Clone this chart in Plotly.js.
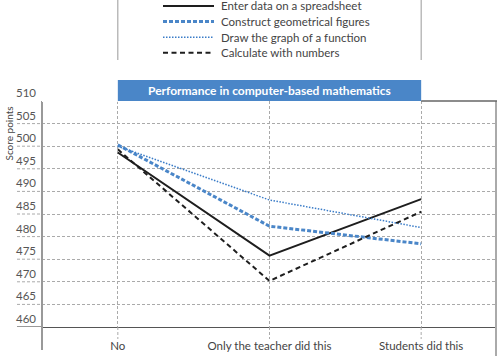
<!DOCTYPE html>
<html><head><meta charset="utf-8">
<script src="https://cdn.plot.ly/plotly-3.0.1.min.js"></script>
<style>html,body{margin:0;padding:0;background:#fff}#chart{width:500px;height:356px}</style>
</head><body><div id="chart"></div>
<script>
// ---- data ----
const categories = ['No', 'Only the teacher did this', 'Students did this'];
const seriesNames = ['Enter data on a spreadsheet', 'Construct geometrical figures', 'Draw the graph of a function', 'Calculate with numbers'];
const enterData = [498.6, 475.8, 488.3];
const constructFigures = [500.3, 482.3, 478.4];
const drawGraph = [500.0, 488.1, 482.0];
const calculateNumbers = [499.3, 470.2, 485.5];
const yTicks = [460, 465, 470, 475, 480, 485, 490, 495, 500, 505, 510];
const chartTitle = 'Performance in computer-based mathematics';
const yTitle = 'Score points';

// ---- styles ----
const FONT = 'Lato, "Open Sans", sans-serif';
const BLUE = '#4a86c8';
const styles = [
  {color: '#1e1e1e', width: 2, dash: 'solid'},
  {color: BLUE, width: 3, dash: '4px,2px'},
  {color: '#3a7cc8', width: 1.5, dash: '1.5px,1.5px'},
  {color: '#1e1e1e', width: 2, dash: '5px,3.5px'}
];
const values = [enterData, constructFigures, drawGraph, calculateNumbers];

const W = 500, H = 356, ML = 42, MR = 3, MT = 101, MB = 29;
const plotW = W - ML - MR, plotH = H - MT - MB;
const pyPaper = p => (H - MB - p) / plotH;
const pxPaper = p => (p - ML) / plotW;

const traces = values.map((v, i) => ({
  type: 'scatter', mode: 'lines', x: categories, y: v, name: seriesNames[i],
  line: {color: styles[i].color, width: styles[i].width, dash: styles[i].dash},
  showlegend: false, hoverinfo: 'x+y+name'
}));

const shapes = [];
const annotations = [];

// legend (manual)
const legRows = [6, 21.6, 37.2, 52.8];
seriesNames.forEach((n, i) => {
  shapes.push({type: 'line', xref: 'paper', yref: 'paper',
    x0: pxPaper(163), x1: pxPaper(214), y0: pyPaper(legRows[i]), y1: pyPaper(legRows[i]),
    line: {color: styles[i].color, width: styles[i].width, dash: styles[i].dash}});
  annotations.push({xref: 'paper', yref: 'paper', x: pxPaper(219), y: pyPaper(legRows[i]),
    xanchor: 'left', yanchor: 'middle', text: n, showarrow: false,
    font: {family: FONT, size: 11.5, color: '#444'}});
});

// gridline extensions to the left of the axis (under tick labels)
yTicks.forEach(t => {
  if (t === yTicks[yTicks.length - 1]) return;
  const base = t === yTicks[0];
  shapes.push({type: 'line', xref: 'paper', yref: 'y', x0: pxPaper(17), x1: 0, y0: t, y1: t,
    line: base ? {color: '#555', width: 1.2} : {color: '#aaa', width: 1, dash: '3px,2px'}});
});
// vertical lines above the chart (frame of legend area)
[0, 2].forEach(c => shapes.push({type: 'line', xref: 'x', yref: 'paper', x0: c, x1: c,
  y0: pyPaper(0), y1: pyPaper(60), line: {color: '#999', width: 1}}));
// gridline extensions below baseline
[0, 1, 2].forEach(c => shapes.push({type: 'line', xref: 'x', yref: 'paper', x0: c, x1: c,
  y0: 0, y1: pyPaper(339), line: {color: '#aaa', width: 1, dash: '3px,2px'}}));
// left axis bar
shapes.push({type: 'line', xref: 'paper', yref: 'paper', x0: 0, x1: 0, y0: 1, y1: pyPaper(350),
  line: {color: '#999', width: 2}});
// right bar
shapes.push({type: 'line', xref: 'paper', yref: 'paper', x0: pxPaper(496), x1: pxPaper(496), y0: 1, y1: pyPaper(357),
  line: {color: '#aaa', width: 2}});
// white cover for top gridline left part, then top border
shapes.push({type: 'line', xref: 'x', yref: 'paper', x0: -0.5, x1: 0, y0: 1, y1: 1,
  line: {color: '#fff', width: 2}});
shapes.push({type: 'line', xref: 'x', yref: 'paper', x0: 2, x1: 2.5, y0: 1, y1: 1,
  line: {color: '#666', width: 1.5}});
// title banner
shapes.push({type: 'rect', xref: 'x', yref: 'paper', x0: 0, x1: 2, y0: 1, y1: pyPaper(80),
  fillcolor: BLUE, line: {width: 0}});
annotations.push({xref: 'x', yref: 'paper', x: 1, y: pyPaper(90.5), xanchor: 'center', yanchor: 'middle',
  text: '<b>' + chartTitle + '</b>', showarrow: false, font: {family: FONT, size: 12, color: '#fff'}});
// y title
annotations.push({xref: 'paper', yref: 'paper', x: pxPaper(8), y: pyPaper(133.5), xanchor: 'center', yanchor: 'middle',
  text: yTitle, textangle: -90, showarrow: false, font: {family: FONT, size: 10, color: '#444'}});

const layout = {
  width: W, height: H,
  margin: {l: ML, r: MR, t: MT, b: MB, pad: 0},
  paper_bgcolor: '#fff', plot_bgcolor: '#fff',
  showlegend: false,
  xaxis: {type: 'category', range: [-0.5, 2.5], showgrid: true, griddash: '3px,2px',
    gridcolor: '#aaa', gridwidth: 1, showline: true, linecolor: '#555', linewidth: 1.2,
    ticks: '', zeroline: false, tickfont: {family: FONT, size: 11.5, color: '#444'},
    ticklabelstandoff: 8, fixedrange: true},
  yaxis: {range: [460, 510], tickvals: yTicks, ticktext: yTicks.map(String), showgrid: true,
    griddash: '3px,2px', gridcolor: '#aaa', gridwidth: 1, zeroline: false, showline: false,
    ticks: '', ticklabelposition: 'outside top', ticklabelstandoff: 5,
    tickfont: {family: FONT, size: 11.5, color: '#555'}, fixedrange: true},
  shapes: shapes, annotations: annotations
};

Plotly.newPlot('chart', traces, layout, {displayModeBar: false, staticPlot: true});
</script></body></html>
